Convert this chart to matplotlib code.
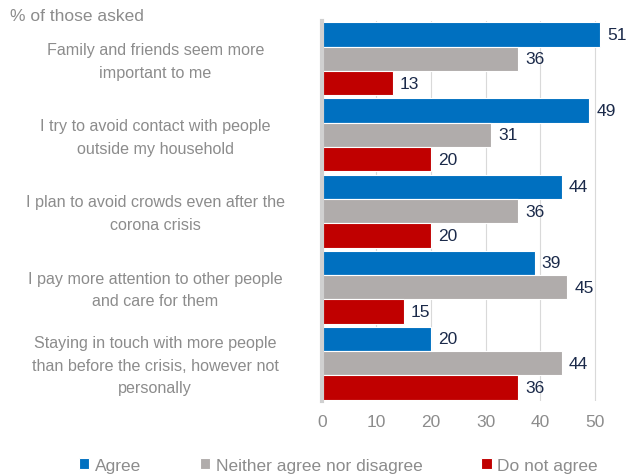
import numpy as np
import matplotlib.pyplot as plt

categories = [
    "Family and friends seem more\nimportant to me",
    "I try to avoid contact with people\noutside my household",
    "I plan to avoid crowds even after the\ncorona crisis",
    "I pay more attention to other people\nand care for them",
    "Staying in touch with more people\nthan before the crisis, however not\npersonally",
]
agree = [51, 49, 44, 39, 20]
neither = [36, 31, 36, 45, 44]
disagree = [13, 20, 20, 15, 36]
series_names = ["Agree", "Neither agree nor disagree", "Do not agree"]
xticks = [0, 10, 20, 30, 40, 50]

plt.rcParams["font.family"] = ["Liberation Sans", "DejaVu Sans"]

colors = ["#0070c0", "#b0acab", "#c00000"]
label_col = "#8c8c8c"
value_col = "#1b2a4a"

fig = plt.figure(figsize=(6.3, 4.77), dpi=100)
ax = fig.add_axes([0.511, 0.157, 0.476, 0.797])

n = len(categories)
h = 0.32
y = np.arange(n)
for i, (vals, c) in enumerate(zip([agree, neither, disagree], colors)):
    pos = y + (i - 1) * h
    ax.barh(pos, vals, height=h, color=c, edgecolor="white", linewidth=0.8,
            label=series_names[i], zorder=3)
    for p, v in zip(pos, vals):
        ax.text(v + 1.3, p, str(v), va="center", ha="left", fontsize=12.5,
                color=value_col, zorder=4)

ax.set_ylim(n - 0.5, -0.5)
ax.set_xlim(0, 55)
ax.set_xticks(xticks)
ax.set_yticks(y - 0.04)
ax.set_yticklabels(categories, fontsize=11.6, color=label_col, ha="center",
                   multialignment="center", linespacing=1.6)
ax.tick_params(axis="y", length=0, pad=120)
ax.tick_params(axis="x", length=0, labelsize=12.5, labelcolor=label_col, pad=9)
ax.grid(axis="x", color="#d9d9d9", linewidth=0.8, zorder=0)
for s in ["top", "right", "bottom"]:
    ax.spines[s].set_visible(False)
ax.spines["left"].set_color("#d0d0d0")
ax.spines["left"].set_linewidth(3)
ax.spines["left"].set_zorder(5)

fig.text(0.016, 0.965, "% of those asked", fontsize=12.5, color=label_col,
         ha="left", va="center")

leg = fig.legend(loc="center", bbox_to_anchor=(0.537, 0.023), ncol=3,
                 frameon=False, fontsize=12.5, handlelength=0.6, handleheight=0.6,
                 handletextpad=0.3, columnspacing=3.4)
for t in leg.get_texts():
    t.set_color(label_col)

fig.savefig("out.png", dpi=100)
